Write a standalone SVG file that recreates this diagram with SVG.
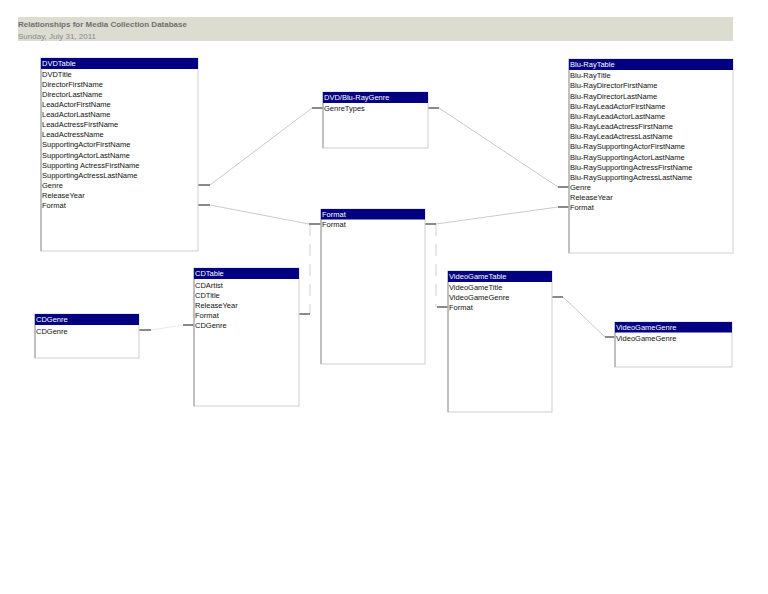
<svg xmlns="http://www.w3.org/2000/svg" width="768" height="594" viewBox="0 0 768 594">
<style>
text{font-family:"Liberation Sans",Arial,sans-serif;font-size:7.5px;fill:#111}
.hdr{fill:#000080}
.ht{fill:#ffffff}
.box{fill:#ffffff;stroke:#cfcfcf;stroke-width:1}
.edge{stroke:#9a9a9a;stroke-width:1}
.stub{stroke:#8a8a8a;stroke-width:2;fill:none}
.ln{stroke:#cacaca;stroke-width:1;fill:none}
.lnf{stroke:#d2d2d2;stroke-width:1;fill:none;stroke-dasharray:12 8}
.title{font-size:8px;font-weight:bold;fill:#707070}
.date{font-size:8px;fill:#8a8a8a}
</style>
<rect x="0" y="0" width="768" height="594" fill="#ffffff"/>
<g id="header">
<rect x="18" y="17" width="715" height="24" fill="#dcdcd1"/>
<text class="title" x="18" y="27">Relationships for Media Collection Database</text>
<text class="date" x="18" y="38.5">Sunday, July 31, 2011</text>
</g>
<g id="connectors">
<line class="ln" x1="210" y1="185" x2="312" y2="108"/>
<line class="ln" x1="439" y1="108" x2="558" y2="187"/>
<line class="ln" x1="210" y1="205" x2="309" y2="224"/>
<line class="lnf" x1="310" y1="224" x2="310" y2="314"/>
<line class="ln" x1="436" y1="224" x2="558" y2="207"/>
<line class="lnf" x1="436" y1="224" x2="436" y2="307"/>
<line class="ln" x1="151" y1="330" x2="183" y2="325" stroke-opacity="0.4"/>
<line class="ln" x1="563" y1="297" x2="605" y2="337"/>
<path class="stub" d="M198 185H210M312 108H323M428 108H439M558 187H569M198 205H210M309 224H321M299 314H310M425 224H436M558 207H569M437 307H448M139 330H151M183 325H194M552 297H563M605 337H615"/>
</g>
<g id="DVDTable">
<rect class="box" x="41" y="58" width="157" height="193"/>
<line class="edge" x1="41" y1="58" x2="41" y2="251"/>
<rect class="hdr" x="41" y="58" width="157" height="11"/>
<text class="ht" x="42" y="66.2">DVDTable</text>
<text x="42" y="76.7">DVDTitle</text>
<text x="42" y="86.8">DirectorFirstName</text>
<text x="42" y="96.9">DirectorLastName</text>
<text x="42" y="107">LeadActorFirstName</text>
<text x="42" y="117.1">LeadActorLastName</text>
<text x="42" y="127.2">LeadActressFirstName</text>
<text x="42" y="137.3">LeadActressName</text>
<text x="42" y="147.4">SupportingActorFirstName</text>
<text x="42" y="157.5">SupportingActorLastName</text>
<text x="42" y="167.6">Supporting ActressFirstName</text>
<text x="42" y="177.7">SupportingActressLastName</text>
<text x="42" y="187.8">Genre</text>
<text x="42" y="197.9">ReleaseYear</text>
<text x="42" y="208">Format</text>
</g>
<g id="DVDBluRayGenre">
<rect class="box" x="323" y="92" width="105" height="56"/>
<line class="edge" x1="323" y1="92" x2="323" y2="148"/>
<rect class="hdr" x="323" y="92" width="105" height="11"/>
<text class="ht" x="324" y="100.2">DVD/Blu-RayGenre</text>
<text x="324" y="110.7">GenreTypes</text>
</g>
<g id="BluRayTable">
<rect class="box" x="569" y="59" width="164" height="194"/>
<line class="edge" x1="569" y1="59" x2="569" y2="253"/>
<rect class="hdr" x="569" y="59" width="164" height="11"/>
<text class="ht" x="570" y="67.2">Blu-RayTable</text>
<text x="570" y="78.3">Blu-RayTitle</text>
<text x="570" y="88.45">Blu-RayDirectorFirstName</text>
<text x="570" y="98.6">Blu-RayDirectorLastName</text>
<text x="570" y="108.75">Blu-RayLeadActorFirstName</text>
<text x="570" y="118.9">Blu-RayLeadActorLastName</text>
<text x="570" y="129.05">Blu-RayLeadActressFirstName</text>
<text x="570" y="139.2">Blu-RayLeadActressLastName</text>
<text x="570" y="149.35">Blu-RaySupportingActorFirstName</text>
<text x="570" y="159.5">Blu-RaySupportingActorLastName</text>
<text x="570" y="169.65">Blu-RaySupportingActressFirstName</text>
<text x="570" y="179.8">Blu-RaySupportingActressLastName</text>
<text x="570" y="189.95">Genre</text>
<text x="570" y="200.1">ReleaseYear</text>
<text x="570" y="210.25">Format</text>
</g>
<g id="Format">
<rect class="box" x="321" y="209" width="104" height="155"/>
<line class="edge" x1="321" y1="209" x2="321" y2="364"/>
<rect class="hdr" x="321" y="209" width="104" height="10.5"/>
<text class="ht" x="322" y="217">Format</text>
<text x="322" y="226.7">Format</text>
</g>
<g id="CDTable">
<rect class="box" x="194" y="268" width="105" height="138"/>
<line class="edge" x1="194" y1="268" x2="194" y2="406"/>
<rect class="hdr" x="194" y="268" width="105" height="11"/>
<text class="ht" x="195" y="276.2">CDTable</text>
<text x="195" y="287.7">CDArtist</text>
<text x="195" y="297.7">CDTitle</text>
<text x="195" y="307.7">ReleaseYear</text>
<text x="195" y="317.7">Format</text>
<text x="195" y="327.7">CDGenre</text>
</g>
<g id="CDGenre">
<rect class="box" x="35" y="314" width="104" height="44"/>
<line class="edge" x1="35" y1="314" x2="35" y2="358"/>
<rect class="hdr" x="35" y="314" width="104" height="11"/>
<text class="ht" x="36" y="322.2">CDGenre</text>
<text x="36" y="333.7">CDGenre</text>
</g>
<g id="VideoGameTable">
<rect class="box" x="448" y="271" width="104" height="141"/>
<line class="edge" x1="448" y1="271" x2="448" y2="412"/>
<rect class="hdr" x="448" y="271" width="104" height="11"/>
<text class="ht" x="449" y="279.2">VideoGameTable</text>
<text x="449" y="289.7">VideoGameTitle</text>
<text x="449" y="299.7">VideoGameGenre</text>
<text x="449" y="310.2">Format</text>
</g>
<g id="VideoGameGenre">
<rect class="box" x="615" y="322" width="117" height="45"/>
<line class="edge" x1="615" y1="322" x2="615" y2="367"/>
<rect class="hdr" x="615" y="322" width="117" height="10.5"/>
<text class="ht" x="616" y="330">VideoGameGenre</text>
<text x="616" y="340.7">VideoGameGenre</text>
</g>
</svg>
